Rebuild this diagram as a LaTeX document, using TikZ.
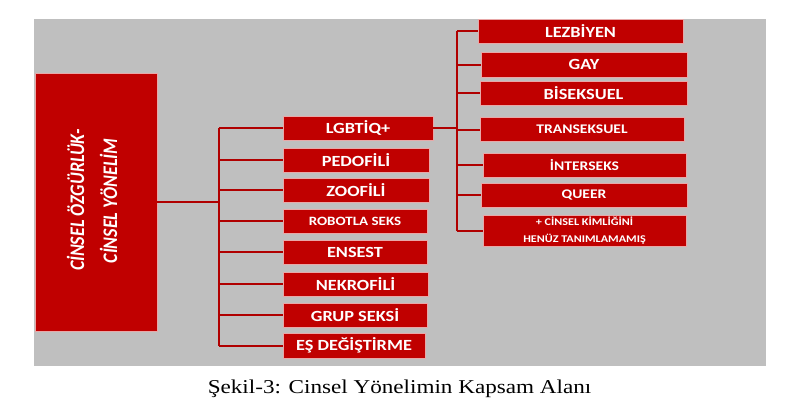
\documentclass[tikz,border=0pt]{standalone}
\usepackage{fontspec}
\newfontfamily\boxfont[FakeStretch=1.18]{Carlito}
\newfontfamily\mainfont[]{Carlito}
\newfontfamily\capfont[FakeStretch=1.18]{Liberation Serif}
\definecolor{bggray}{HTML}{BFBFBF}
\definecolor{boxred}{HTML}{C00000}
\definecolor{linered}{HTML}{B00000}
\definecolor{boxedge}{HTML}{E8A8A8}
\tikzset{
  redbox/.style={fill=boxred, draw=boxedge, line width=0.6pt, text=white,
    inner sep=0pt, font=\boxfont\bfseries\fontsize{15.5}{18}\selectfont},
  conn/.style={draw=linered, line width=2pt},
  bigtext/.style={rotate=90, anchor=base, text=white, inner sep=0pt,
    font=\mainfont\bfseries\itshape\fontsize{18}{20}\selectfont},
}
\begin{document}
\begin{tikzpicture}[x=1pt,y=-1pt]
\useasboundingbox (0,0) rectangle (797,402);
\fill[white] (0,0) rectangle (797,402);
\fill[bggray] (34,19) rectangle (766,366);
% main box
\node[redbox, minimum width=122, minimum height=258] (big) at (96,202) {};
\node[bigtext] (t1) at (84,200) {\scalebox{1}[1.15]{CİNSEL ÖZGÜRLÜK-}};
\node[bigtext] (t2) at (117,201) {\scalebox{1}[1.15]{CİNSEL YÖNELİM}};
% left column
\node[redbox, minimum width=150, minimum height=24] (lgbt) at (358,128) {LGBTİQ+};
\node[redbox, minimum width=146, minimum height=24] (pedo) at (356,160) {PEDOFİLİ};
\node[redbox, minimum width=146, minimum height=24] (zoo) at (356,190) {ZOOFİLİ};
\node[redbox, minimum width=144, minimum height=24, font=\boxfont\bfseries\fontsize{12.7}{15}\selectfont] (robo) at (355,221) {ROBOTLA SEKS};
\node[redbox, minimum width=144, minimum height=24] (ensest) at (355,252) {ENSEST};
\node[redbox, minimum width=145, minimum height=24] (nekro) at (355.5,284) {NEKROFİLİ};
\node[redbox, minimum width=144, minimum height=24] (grup) at (355,315) {GRUP SEKSİ};
\node[redbox, minimum width=142, minimum height=25] (es) at (354,345.5) {EŞ DEĞİŞTİRME};
% right column
\node[redbox, minimum width=205, minimum height=24] (lez) at (580.5,31) {LEZBİYEN};
\node[redbox, minimum width=206, minimum height=25] (gay) at (584,64.5) {GAY};
\node[redbox, minimum width=207, minimum height=24] (bi) at (583.5,93) {BİSEKSUEL};
\node[redbox, minimum width=204, minimum height=24, font=\boxfont\bfseries\fontsize{13.2}{15}\selectfont] (trans) at (582,129.5) {TRANSEKSUEL};
\node[redbox, minimum width=203, minimum height=24, font=\boxfont\bfseries\fontsize{13.2}{15}\selectfont] (inter) at (584.5,165) {İNTERSEKS};
\node[redbox, minimum width=206, minimum height=24, font=\boxfont\bfseries\fontsize{13.2}{15}\selectfont] (queer) at (584,195) {QUEER};
\node[redbox, minimum width=203, minimum height=31, align=center, font=\boxfont\bfseries\fontsize{10.3}{17}\selectfont] (undef) at (584.5,230.5) {+ CİNSEL KİMLİĞİNİ\\HENÜZ TANIMLAMAMIŞ};
% left connectors
\coordinate (ltop) at (219,128);
\coordinate (lbot) at (219,345.5);
\draw[conn] (big.east) -- (big.east -| ltop);
\draw[conn] (ltop) -- (lbot);
\foreach \n in {lgbt,pedo,zoo,robo,ensest,nekro,grup,es}
  \draw[conn] (\n.west) -- (\n.west -| ltop);
% right connectors
\coordinate (rtop) at (457,31);
\coordinate (rbot) at (457,230.5);
\draw[conn] (lgbt.east) -- (lgbt.east -| rtop);
\draw[conn] (rtop) -- (rbot);
\foreach \n in {lez,gay,bi,trans,inter,queer,undef}
  \draw[conn] (\n.west) -- (\n.west -| rtop);
% caption
\node[anchor=base, font=\capfont\fontsize{19.6}{22}\selectfont] (cap) at (399.5,393) {Şekil-3: Cinsel Yönelimin Kapsam Alanı};
\end{tikzpicture}
\end{document}
